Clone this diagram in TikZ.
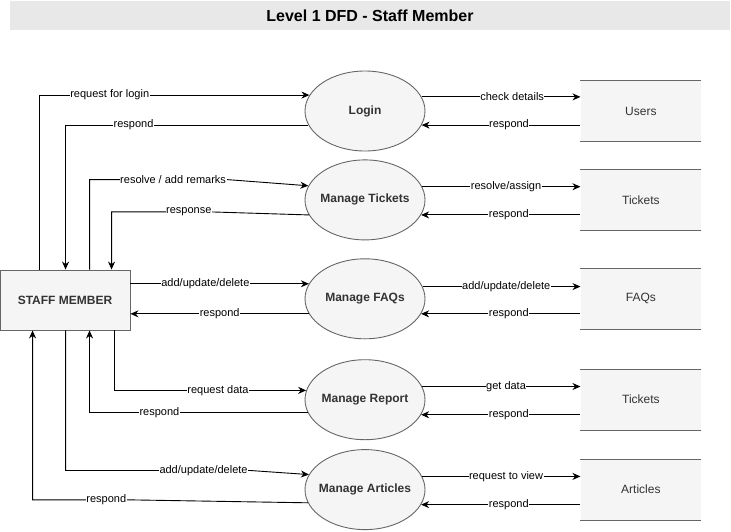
\documentclass[tikz,border=0pt]{standalone}
\usepackage{fontspec}
\setmainfont{Liberation Sans}
\usepackage{tikz}
\usetikzlibrary{positioning,arrows.meta,shapes.geometric,calc}
\definecolor{boxfill}{HTML}{F5F5F5}
\definecolor{boxline}{HTML}{666666}
\definecolor{boxtext}{HTML}{333333}
\definecolor{banner}{HTML}{E8E8E8}
\tikzset{
  proc/.style={ellipse,draw=boxline,fill=boxfill,inner sep=0pt,minimum width=120pt,minimum height=80pt,
    label={[text=boxtext,font=\fontsize{12}{14}\selectfont\bfseries]center:#1}},
  store/.style={fill=boxfill,text=boxtext,minimum width=120pt,minimum height=60pt,font=\fontsize{12}{14}\selectfont},
  storeline/.style={draw=boxline},
  ent/.style={draw=boxline,fill=boxfill,text=boxtext,minimum width=130pt,minimum height=60pt,font=\fontsize{12}{14}\selectfont\bfseries},
  arr/.style={-{Stealth[length=8pt,width=7pt]}},
  lbl/.style={fill=white,inner sep=0.5pt,font=\fontsize{11}{13}\selectfont},
}

\begin{document}
\begin{tikzpicture}[x=1pt,y=-1pt,line width=0.9pt]
\useasboundingbox (0,0) rectangle (731,531);
% title
\node[fill=banner,minimum width=720pt,minimum height=29pt,font=\fontsize{16}{18}\selectfont\bfseries] (title) at (370,15.5) {Level 1 DFD - Staff Member};

% external entity
\node[ent] (staff) at (65,300) {STAFF MEMBER};

% processes
\node[proc=Login] (login) at (365,111) {};
\node[proc=Manage Tickets, below=8pt of login] (mtix) {};
\node[proc=Manage FAQs, below=18pt of mtix] (mfaq) {};
\node[proc=Manage Report, below=20pt of mfaq] (mrep) {};
\node[proc=Manage Articles, below=9pt of mrep] (mart) {};

% data stores
\node[store, right=155pt of login] (users) {Users};
\node[store, right=155pt of mtix] (tix) {Tickets};
\node[store, right=155pt of mfaq] (faqs) {FAQs};
\node[store, right=155pt of mrep] (tix2) {Tickets};
\node[store, right=155pt of mart] (arts) {Articles};
\foreach \s in {users,tix,faqs,tix2,arts}
  \draw[storeline] (\s.north west) -- (\s.north east) (\s.south west) -- (\s.south east);

% process <-> store
\draw[arr] (login.14) -- node[lbl,pos=0.57] {check details} (login.14 -| users.west);
\draw[arr] (login.-14 -| users.west) -- node[lbl,pos=0.45] {respond} (login.-14);
\draw[arr] (mtix.13) -- node[lbl,pos=0.53] {resolve/assign} (mtix.13 -| tix.west);
\draw[arr] (mtix.-15 -| tix.west) -- node[lbl,pos=0.45] {respond} (mtix.-15);
\draw[arr] (mfaq.12) -- node[lbl,pos=0.53] {add/update/delete} (mfaq.12 -| faqs.west);
\draw[arr] (mfaq.-15 -| faqs.west) -- node[lbl,pos=0.45] {respond} (mfaq.-15);
\draw[arr] (mrep.13) -- node[lbl,pos=0.53] {get data} (mrep.13 -| tix2.west);
\draw[arr] (mrep.-15 -| tix2.west) -- node[lbl,pos=0.45] {respond} (mrep.-15);
\draw[arr] (mart.13) -- node[lbl,pos=0.53] {request to view} (mart.13 -| arts.west);
\draw[arr] (mart.-15 -| arts.west) -- node[lbl,pos=0.45] {respond} (mart.-15);

% staff member <-> processes
\draw[arr] ([xshift=40pt]staff.north west) |- node[lbl,pos=0.63] {request for login} (login.164);
\draw[arr] (login.194) -| node[lbl,pos=0.36] {respond} ([xshift=66pt]staff.north west);
\draw[arr] ([xshift=90pt]staff.north west) -- ++(0,-90) -- ++(137,0) node[lbl,pos=0.61] {resolve / add remarks} -- (mtix.166);
\draw[arr] (mtix.195) -- ++(-97,-3) -| node[lbl,pos=0.115] {response} ([xshift=112pt]staff.north west);
\draw[arr] (mfaq.165 -| staff.east) -- node[lbl,pos=0.42] {add/update/delete} (mfaq.165);
\draw[arr] (mfaq.195) -- node[lbl] {respond} (mfaq.195 -| staff.east);
\draw[arr] ([xshift=115pt]staff.south west) |- node[lbl,pos=0.77] {request data} (mrep.171);
\draw[arr] (mrep.193) -| node[lbl,pos=0.34] {respond} ([xshift=90pt]staff.south west);
\draw[arr] ([xshift=66pt]staff.south west) -- ++(0,140) -- ++(184,0) node[lbl,pos=0.75] {add/update/delete} -- (mart.165);
\draw[arr] (mart.193) -- ++(-182,-3) -| node[lbl,pos=0.105] {respond} ([xshift=33pt]staff.south west);

\end{tikzpicture}
\end{document}
